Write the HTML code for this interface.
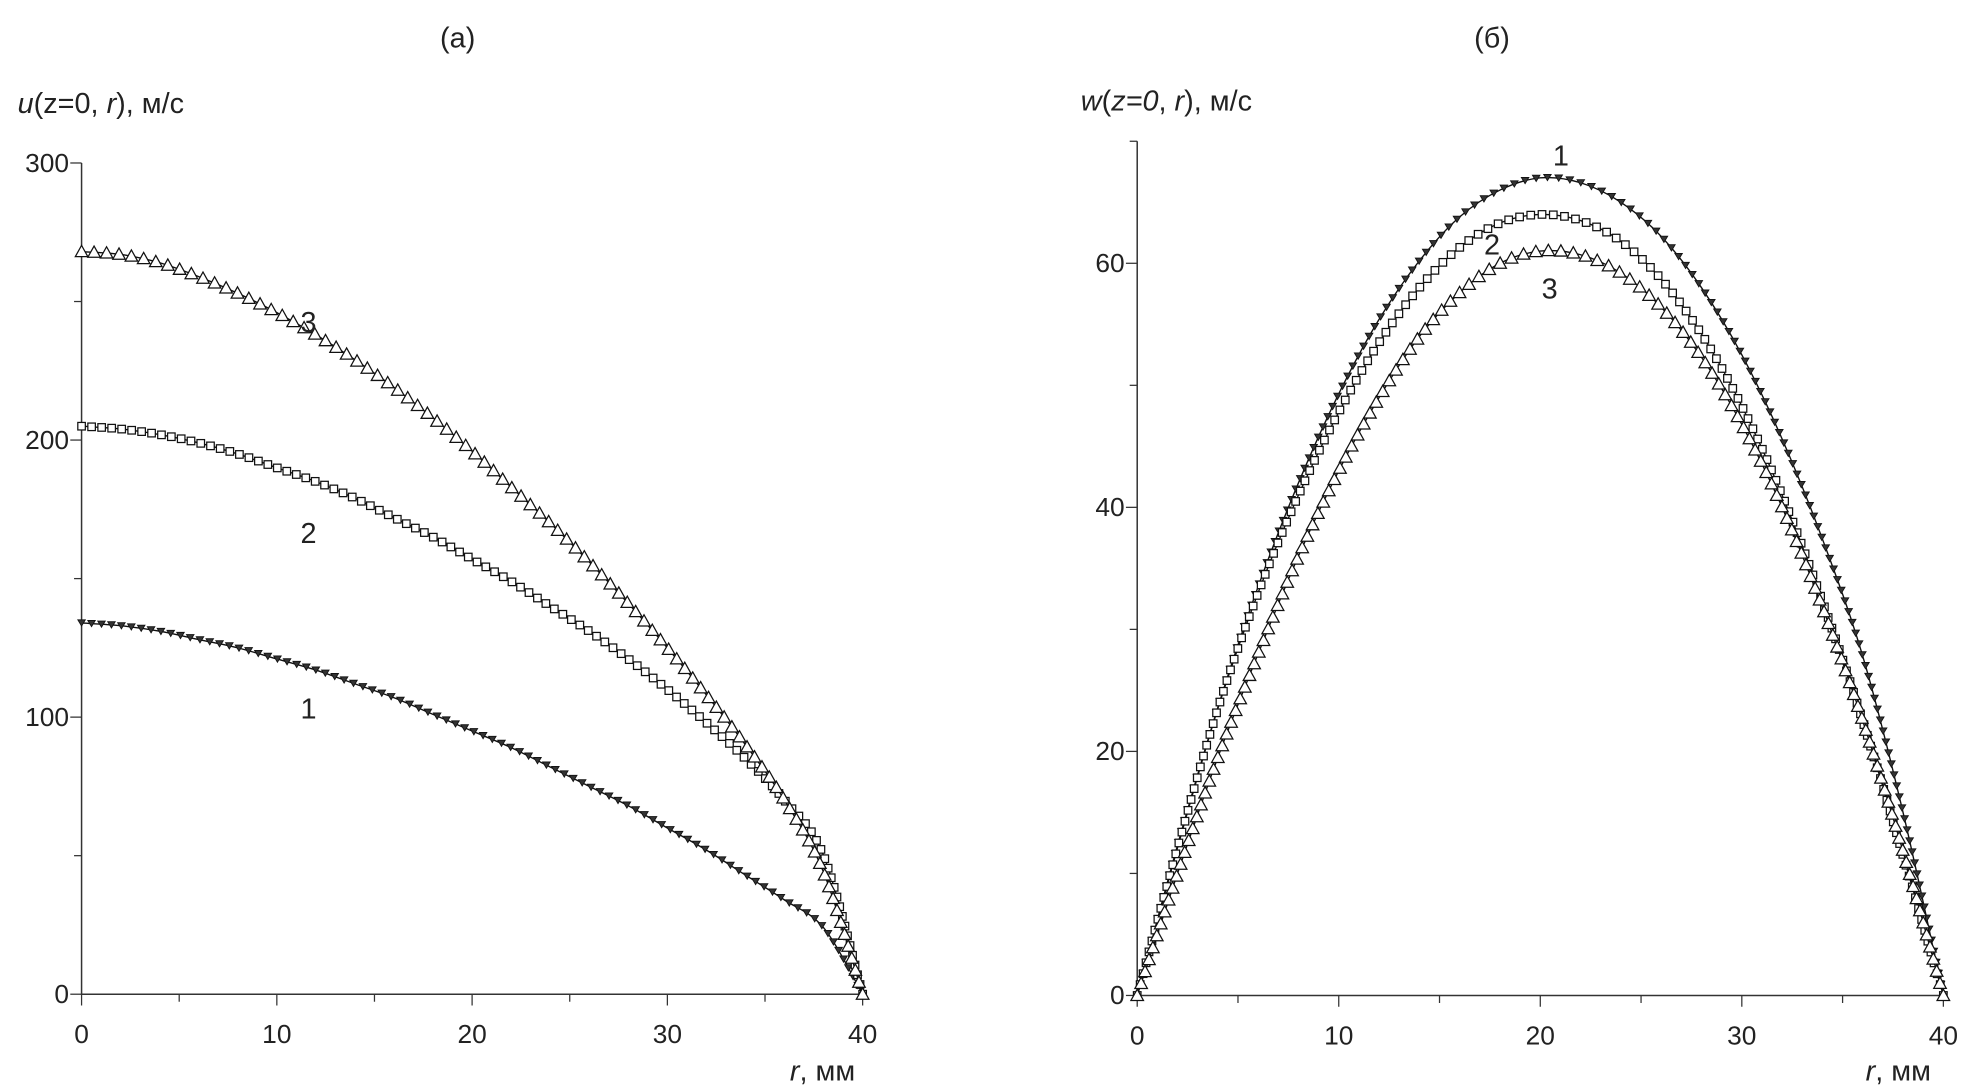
<!DOCTYPE html>
<html><head><meta charset="utf-8"><style>
html,body{margin:0;padding:0;background:#fff;}
svg{display:block;}
text{font-family:"Liberation Sans",sans-serif;fill:#222;}
</style></head><body>
<svg id="chart" width="1966" height="1092" viewBox="0 0 1568 871">
<text x="365" y="38" font-size="23" text-anchor="middle">(a)</text>
<text x="1190" y="38" font-size="23" text-anchor="middle">(б)</text>
<text x="14" y="90" font-size="23"><tspan font-style="italic">u</tspan>(z=0, <tspan font-style="italic">r</tspan>), м/с</text>
<text x="862" y="88" font-size="23"><tspan font-style="italic">w</tspan>(<tspan font-style="italic">z=0</tspan>, <tspan font-style="italic">r</tspan>), м/с</text>
<text x="630" y="862" font-size="23"><tspan font-style="italic">r</tspan>, мм</text>
<text x="1488" y="862" font-size="23"><tspan font-style="italic">r</tspan>, мм</text>
<g id="pa"></g>
<g id="pb"></g>
</svg>
<script>
const rValues=[0,2,4,6,8,10,12,14,16,18,20,22,24,26,28,30,32,34,36,38,40];
const uCurve1=[134,133,131,128,125,121,117,112,107,101,95,89,82,75,68,60,52,43,34,24,0];
const uCurve2=[205,204,202,199,195,190,185,179,172,165,157,149,140,131,121,110,98,85,70,50,0];
const uCurve3=[268,267,264,259,253,246,238,229,219,208,196,183,170,156,141,125,108,90,70,44,0];
const wCurve1=[0,12.3,23.6,33.5,42,49.3,55.4,60.2,63.8,66,67,66.6,65,62.2,58,52.5,45.6,37.4,27.8,15,0];
const wCurve2=[0,12.1,23.5,33,41,47.8,53.5,58,61.3,63.3,64,63.5,61.8,58.7,54.2,48.3,41,32.3,22.5,11.5,0];
const wCurve3=[0,10,19.5,28,36,43,49,54,57.6,60,61,60.7,59.2,56.4,52.3,46.8,40,31.8,22.5,11.8,0];
const xTicks=[0,10,20,30,40];
const uTicks=[0,100,200,300];
const wTicks=[0,20,40,60];
const NS="http://www.w3.org/2000/svg";
function mk(tag,attrs,parent){const e=document.createElementNS(NS,tag);for(const k in attrs)e.setAttribute(k,attrs[k]);parent.appendChild(e);return e;}
function plot(g,cfg){
  const sx=v=>cfg.x0+(v-0)/40*(cfg.x1-cfg.x0);
  const sy=v=>cfg.y0-(v/cfg.ymax)*(cfg.y0-cfg.y1);
  const ax=mk('path',{d:`M${cfg.x0},${sy(cfg.ytop)}V${cfg.y0}H${sx(40)}`,stroke:'#333',fill:'none','stroke-width':1.2},g);
  
  
  for(let v=0;v<=40;v+=5){const big=v%10===0;const t=mk('line',{x1:sx(v),x2:sx(v),y1:cfg.y0,y2:cfg.y0+(big?9:6),stroke:'#333'},g);
    
    }
  xTicks.forEach(v=>{const t=mk('text',{x:sx(v),y:cfg.y0+39,'font-size':21,'text-anchor':'middle'},g);t.textContent=v;
    
    });
  for(let v=0;v<=cfg.ytop+0.001;v+=cfg.minor){const big=Math.abs(v/cfg.major-Math.round(v/cfg.major))<1e-6;
    const t=mk('line',{x1:cfg.x0-(big?9:6),x2:cfg.x0,y1:sy(v),y2:sy(v),stroke:'#333'},g);
    
    }
  cfg.yticks.forEach(v=>{const t=mk('text',{x:cfg.x0-10,y:sy(v)+7,'font-size':21,'text-anchor':'end'},g);t.textContent=v;
    
    });
  cfg.series.forEach((s,si)=>{
    const pts=rValues.map((r,i)=>[sx(r),sy(s.data[i])]);
    let d=`M${pts[0][0]},${pts[0][1]}`;
    for(let i=0;i<pts.length-1;i++){const p0=pts[Math.max(0,i-1)],p1=pts[i],p2=pts[i+1],p3=pts[Math.min(pts.length-1,i+2)];
      d+=`C${p1[0]+(p2[0]-p0[0])/6},${p1[1]+(p2[1]-p0[1])/6} ${p2[0]-(p3[0]-p1[0])/6},${p2[1]-(p3[1]-p1[1])/6} ${p2[0]},${p2[1]}`;}
    const path=mk('path',{d:d,fill:'none',stroke:'#111','stroke-width':1.1},g);
    
    
    const L=path.getTotalLength();const n=Math.round(L/s.step);
    for(let k=0;k<=n;k++){const p=path.getPointAtLength(L*k/n);let m;
      if(s.marker==='tri'){m=mk('path',{d:`M${p.x-5},${p.y+4}L${p.x},${p.y-5}L${p.x+5},${p.y+4}Z`,fill:'#fff',stroke:'#111','stroke-width':1},g);}
      else if(s.marker==='sq'){m=mk('rect',{x:p.x-3,y:p.y-3,width:6,height:6,fill:'#fff',stroke:'#111','stroke-width':1},g);}
      else {m=mk('path',{d:`M${p.x-3},${p.y-2.5}L${p.x+3},${p.y-2.5}L${p.x},${p.y+2.5}Z`,fill:'#333',stroke:'#111','stroke-width':0.7},g);}
      
      }
    const lb=mk('text',{x:s.lx,y:s.ly,'font-size':23,'text-anchor':'middle'},g);lb.textContent=String(si+1);
    
    
  });
}
plot(document.getElementById('pa'),{x0:65,x1:688,y0:793,y1:130,ymax:300,ytop:300,minor:50,major:100,yticks:uTicks,
  series:[{data:uCurve1,marker:'dtri',step:8,lx:246,ly:573},{data:uCurve2,marker:'sq',step:8,lx:246,ly:433},{data:uCurve3,marker:'tri',step:10,lx:246,ly:265}]});
plot(document.getElementById('pb'),{x0:907,x1:1550,y0:794,y1:210,ymax:60,ytop:70,minor:10,major:20,yticks:wTicks,
  series:[{data:wCurve1,marker:'dtri',step:9,lx:1245,ly:132},{data:wCurve2,marker:'sq',step:9,lx:1190,ly:203},{data:wCurve3,marker:'tri',step:10,lx:1236,ly:238}]});
</script>
</body></html>
